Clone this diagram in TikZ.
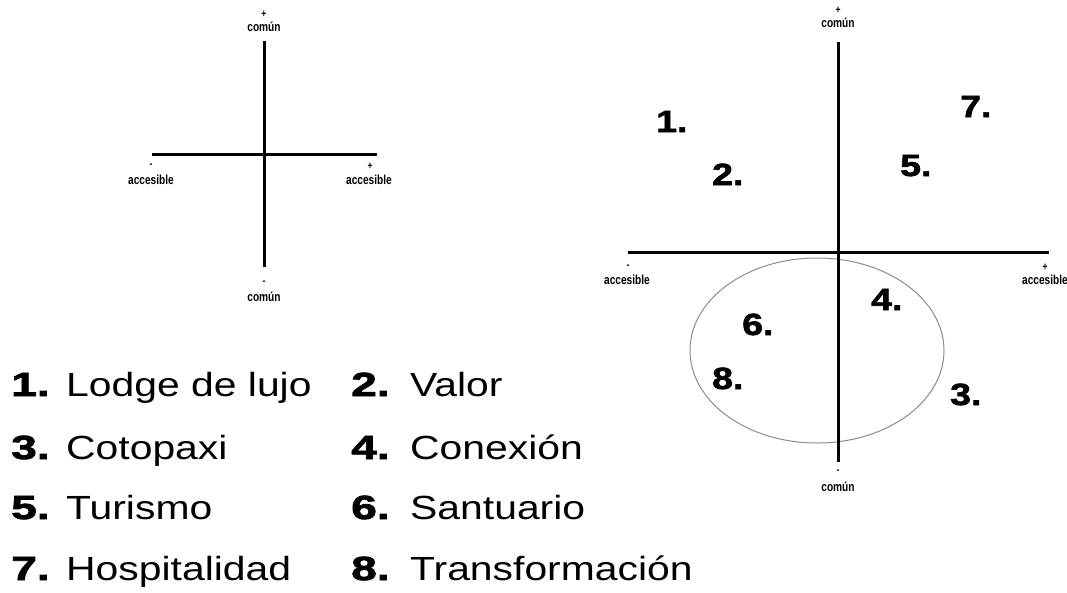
\documentclass[tikz,border=0pt]{standalone}
\usepackage{fontspec}
\newfontfamily\numfont[UprightFont={* Bold},FakeStretch=1.22,FakeBold=2]{Liberation Sans}
\newfontfamily\legnumfont[UprightFont={* Bold},FakeStretch=1.38,FakeBold=2.2]{Liberation Sans}
\newfontfamily\legfont[FakeStretch=1.22]{Liberation Sans}
\newfontfamily\axfont[UprightFont={* Bold},FakeStretch=0.78]{Liberation Sans}
\tikzset{
  axis/.style={line width=3pt, black},
  oval/.style={draw=black!45, line width=1pt},
  axlbl/.style={inner sep=0pt, font=\axfont\fontsize{13}{13}\selectfont},
  signlbl/.style={inner sep=0pt, font=\axfont\fontsize{11}{11}\selectfont},
  chartnum/.style={inner sep=0pt, anchor=base west, font=\numfont\fontsize{30.7}{31}\selectfont},
  legnum/.style={inner sep=0pt, anchor=base west, font=\legnumfont\fontsize{33.5}{34}\selectfont},
  legtext/.style={inner sep=0pt, anchor=base west, font=\legfont\fontsize{33.5}{34}\selectfont},
}
\begin{document}
\begin{tikzpicture}[x=1pt,y=-1pt]
\useasboundingbox (0,0) rectangle (1067,592);
% ---------- left chart ----------
\coordinate (lt) at (264,41);
\coordinate (lb) at (264,267);
\coordinate (ll) at (152,154);
\coordinate (lr) at (377,154);
\draw[axis] (lt) -- (lb);
\draw[axis] (ll) -- (lr);
\node[signlbl] (ltp) at (264,14) {+};
\node[axlbl] (ltc) at (264,27) {común};
\node[signlbl] (llm) at (151,166) {-};
\node[axlbl] (lla) at (151,180) {accesible};
\node[signlbl] (lrp) at (370,166) {+};
\node[axlbl] (lra) at (369,180) {accesible};
\node[signlbl] (lbm) at (264,283) {-};
\node[axlbl] (lbc) at (264,297) {común};
% ---------- right chart ----------
\draw[oval] (817,350.5) ellipse [x radius=127, y radius=92.5];
\coordinate (rt) at (838,42);
\coordinate (rb) at (838,462);
\coordinate (rl) at (628,252);
\coordinate (rr) at (1049,252);
\draw[axis] (rt) -- (rb);
\draw[axis] (rl) -- (rr);
\node[signlbl] (rtp) at (838,10) {+};
\node[axlbl] (rtc) at (838,23) {común};
\node[signlbl] (rlm) at (628,267) {-};
\node[axlbl] (rla) at (627,280) {accesible};
\node[signlbl] (rrp) at (1045,267) {+};
\node[axlbl] (rra) at (1045,280) {accesible};
\node[signlbl] (rbm) at (838,472) {-};
\node[axlbl] (rbc) at (838,487) {común};
% chart numbers
\node[chartnum] (c1) at (656,132) {1.};
\node[chartnum] (c2) at (712,185) {2.};
\node[chartnum] (c3) at (950,405) {3.};
\node[chartnum] (c4) at (871,310) {4.};
\node[chartnum] (c5) at (900,176) {5.};
\node[chartnum] (c6) at (742,335) {6.};
\node[chartnum] (c7) at (960,117) {7.};
\node[chartnum] (c8) at (712,389) {8.};
% ---------- legend ----------
\node[legnum] (n1) at (11,396) {1.};
\node[legtext] (t1) at (66,396) {Lodge de lujo};
\node[legnum] (n2) at (351,396) {2.};
\node[legtext] (t2) at (410,396) {Valor};
\node[legnum] (n3) at (11,459) {3.};
\node[legtext] (t3) at (66,459) {Cotopaxi};
\node[legnum] (n4) at (351,459) {4.};
\node[legtext] (t4) at (410,459) {Conexión};
\node[legnum] (n5) at (11,519) {5.};
\node[legtext] (t5) at (66,519) {Turismo};
\node[legnum] (n6) at (351,519) {6.};
\node[legtext] (t6) at (410,519) {Santuario};
\node[legnum] (n7) at (11,580) {7.};
\node[legtext] (t7) at (66,580) {Hospitalidad};
\node[legnum] (n8) at (351,580) {8.};
\node[legtext] (t8) at (410,580) {Transformación};
\end{tikzpicture}
\end{document}
